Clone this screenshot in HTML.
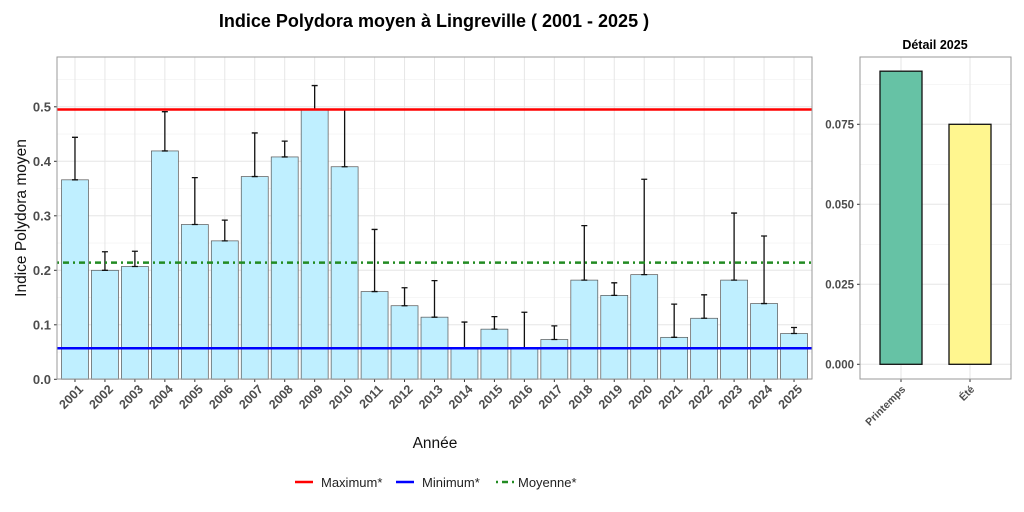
<!DOCTYPE html>
<html><head><meta charset="utf-8"><style>
body{margin:0;background:#fff;}
svg{display:block;font-family:"Liberation Sans",Arial,sans-serif;}
</style></head><body>
<svg id="chart" width="1024" height="512" viewBox="0 0 1024 512">
<text x="434" y="27" font-size="18" font-weight="bold" text-anchor="middle">Indice Polydora moyen à Lingreville ( 2001 - 2025 )</text>
<text x="935" y="49" font-size="12.5" font-weight="bold" text-anchor="middle">Détail 2025</text>
<g id="main"></g>
<g id="detail"></g>
<text x="26" y="218" font-size="15.5" fill="#111" text-anchor="middle" transform="rotate(-90 26 218)">Indice Polydora moyen</text>
<text x="435" y="448" font-size="15.5" fill="#111" text-anchor="middle">Année</text>
<g>
<g><line x1="295" y1="482" x2="313" y2="482" stroke="#f00" stroke-width="2.5"/><text x="321" y="487" font-size="13" fill="#222">Maximum*</text></g>
<g><line x1="396" y1="482" x2="414" y2="482" stroke="#00f" stroke-width="2.5"/><text x="422" y="487" font-size="13" fill="#222">Minimum*</text></g>
<g><line x1="496" y1="482" x2="514" y2="482" stroke="#228B22" stroke-width="2.5" stroke-dasharray="2,4,6,4"/><text x="518" y="487" font-size="13" fill="#222">Moyenne*</text></g>
</g>
</svg>
<script>
const years=["2001","2002","2003","2004","2005","2006","2007","2008","2009","2010","2011","2012","2013","2014","2015","2016","2017","2018","2019","2020","2021","2022","2023","2024","2025"];
const means=[0.366,0.200,0.207,0.419,0.284,0.254,0.372,0.408,0.495,0.390,0.161,0.135,0.114,0.057,0.092,0.057,0.073,0.182,0.154,0.192,0.077,0.112,0.182,0.139,0.084];
const upper=[0.444,0.234,0.235,0.491,0.370,0.292,0.452,0.437,0.539,0.495,0.275,0.168,0.181,0.105,0.115,0.123,0.098,0.282,0.177,0.367,0.138,0.155,0.305,0.263,0.095];
const refMax=0.495, refMin=0.057, refMean=0.214;
const yTicks=[0,0.1,0.2,0.3,0.4,0.5];
const seasons=["Printemps","Été"];
const seasonVals=[0.0916,0.075];
const seasonColors=["#66C2A5","#FFF68F"];
const dTicks=[0,0.025,0.05,0.075];

const NS="http://www.w3.org/2000/svg";
function mk(parent,tag,attrs){const e=document.createElementNS(NS,tag);for(const k in attrs)e.setAttribute(k,attrs[k]);parent.appendChild(e);return e;}
const L=57,R=812,T=57,B=379;
const step=(R-L)/(years.length+0.2);
const xC=i=>L+step*(0.6+i);
const yS=v=>379.3-v*545;
const g=document.getElementById('main');
mk(g,'rect',{x:L,y:T,width:R-L,height:B-T,fill:'#fff'});
for(let k=0;k<yTicks.length;k++){const v=yTicks[k];
 if(k<yTicks.length-1){mk(g,'line',{x1:L,x2:R,y1:yS(v+0.05),y2:yS(v+0.05),stroke:'#f0f0f0','stroke-width':0.6});}
 mk(g,'line',{x1:L,x2:R,y1:yS(v),y2:yS(v),stroke:'#e6e6e6','stroke-width':1});
 const t=mk(g,'text',{x:L-6,y:yS(v)+4.5,'font-size':13,'font-weight':'bold',fill:'#4d4d4d','text-anchor':'end'});t.textContent=v.toFixed(1);
 mk(g,'line',{x1:L-3,x2:L,y1:yS(v),y2:yS(v),stroke:'#333'});
}
mk(g,'line',{x1:L,x2:R,y1:yS(0.55),y2:yS(0.55),stroke:'#f0f0f0','stroke-width':0.6});
years.forEach((y,i)=>mk(g,'line',{x1:xC(i),x2:xC(i),y1:T,y2:B,stroke:'#e6e6e6'}));
years.forEach((y,i)=>{
 const w=step*0.9;
 const r=mk(g,'rect',{x:xC(i)-w/2,y:yS(means[i]),width:w,height:yS(0)-yS(means[i]),fill:'#BFEFFF',stroke:'#555','stroke-width':0.7});
 
 
 const e=mk(g,'path',{d:`M${xC(i)} ${yS(means[i])}V${yS(upper[i])}M${xC(i)-3} ${yS(upper[i])}H${xC(i)+3}M${xC(i)-3} ${yS(means[i])}H${xC(i)+3}`,stroke:'#111','stroke-width':1.3,fill:'none'});
 
 
 mk(g,'line',{x1:xC(i),x2:xC(i),y1:B,y2:B+3,stroke:'#333'});
 const tx=xC(i)+9, ty=B+11;
 const t=mk(g,'text',{x:tx,y:ty,'font-size':12.5,'font-weight':'bold',fill:'#4d4d4d','text-anchor':'end',transform:`rotate(-45 ${tx} ${ty})`});t.textContent=y;
 
 
});
const lmax=mk(g,'line',{x1:L,x2:R,y1:yS(refMax),y2:yS(refMax),stroke:'#f00','stroke-width':2.5});


const lmin=mk(g,'line',{x1:L,x2:R,y1:yS(refMin),y2:yS(refMin),stroke:'#00f','stroke-width':2.5});


const lmean=mk(g,'line',{x1:L,x2:R,y1:yS(refMean),y2:yS(refMean),stroke:'#228B22','stroke-width':2.5,'stroke-dasharray':'2,4,6,4'});


mk(g,'rect',{x:L,y:T,width:R-L,height:B-T,fill:'none',stroke:'#999','stroke-width':1});
const dL=860,dR=1011,dT=57,dB=379;
const dy=v=>364.3-v*3200;
const dStep=69, dx=i=>901+i*dStep;
const d=document.getElementById('detail');
mk(d,'rect',{x:dL,y:dT,width:dR-dL,height:dB-dT,fill:'#fff'});
dTicks.forEach(v=>{
 mk(d,'line',{x1:dL,x2:dR,y1:dy(v+0.0125),y2:dy(v+0.0125),stroke:'#f0f0f0','stroke-width':0.6});
 mk(d,'line',{x1:dL,x2:dR,y1:dy(v),y2:dy(v),stroke:'#e6e6e6'});
 mk(d,'line',{x1:dL-3,x2:dL,y1:dy(v),y2:dy(v),stroke:'#333'});
 const t=mk(d,'text',{x:dL-6,y:dy(v)+4,'font-size':11.5,'font-weight':'bold',fill:'#4d4d4d','text-anchor':'end'});t.textContent=v.toFixed(3);
});
seasons.forEach((s,i)=>{
 mk(d,'line',{x1:dx(i),x2:dx(i),y1:dT,y2:dB,stroke:'#e6e6e6'});
 const r=mk(d,'rect',{x:dx(i)-21,y:dy(seasonVals[i]),width:42,height:dy(0)-dy(seasonVals[i]),fill:seasonColors[i],stroke:'#111','stroke-width':1.3});
 
 
 mk(d,'line',{x1:dx(i),x2:dx(i),y1:dB,y2:dB+3,stroke:'#333'});
 const tx=dx(i)+5, ty=dB+11;
 const t=mk(d,'text',{x:tx,y:ty,'font-size':10.5,'font-weight':'bold',fill:'#4d4d4d','text-anchor':'end',transform:`rotate(-45 ${tx} ${ty})`});t.textContent=s;
});
mk(d,'rect',{x:dL,y:dT,width:dR-dL,height:dB-dT,fill:'none',stroke:'#999'});
</script>
</body></html>
